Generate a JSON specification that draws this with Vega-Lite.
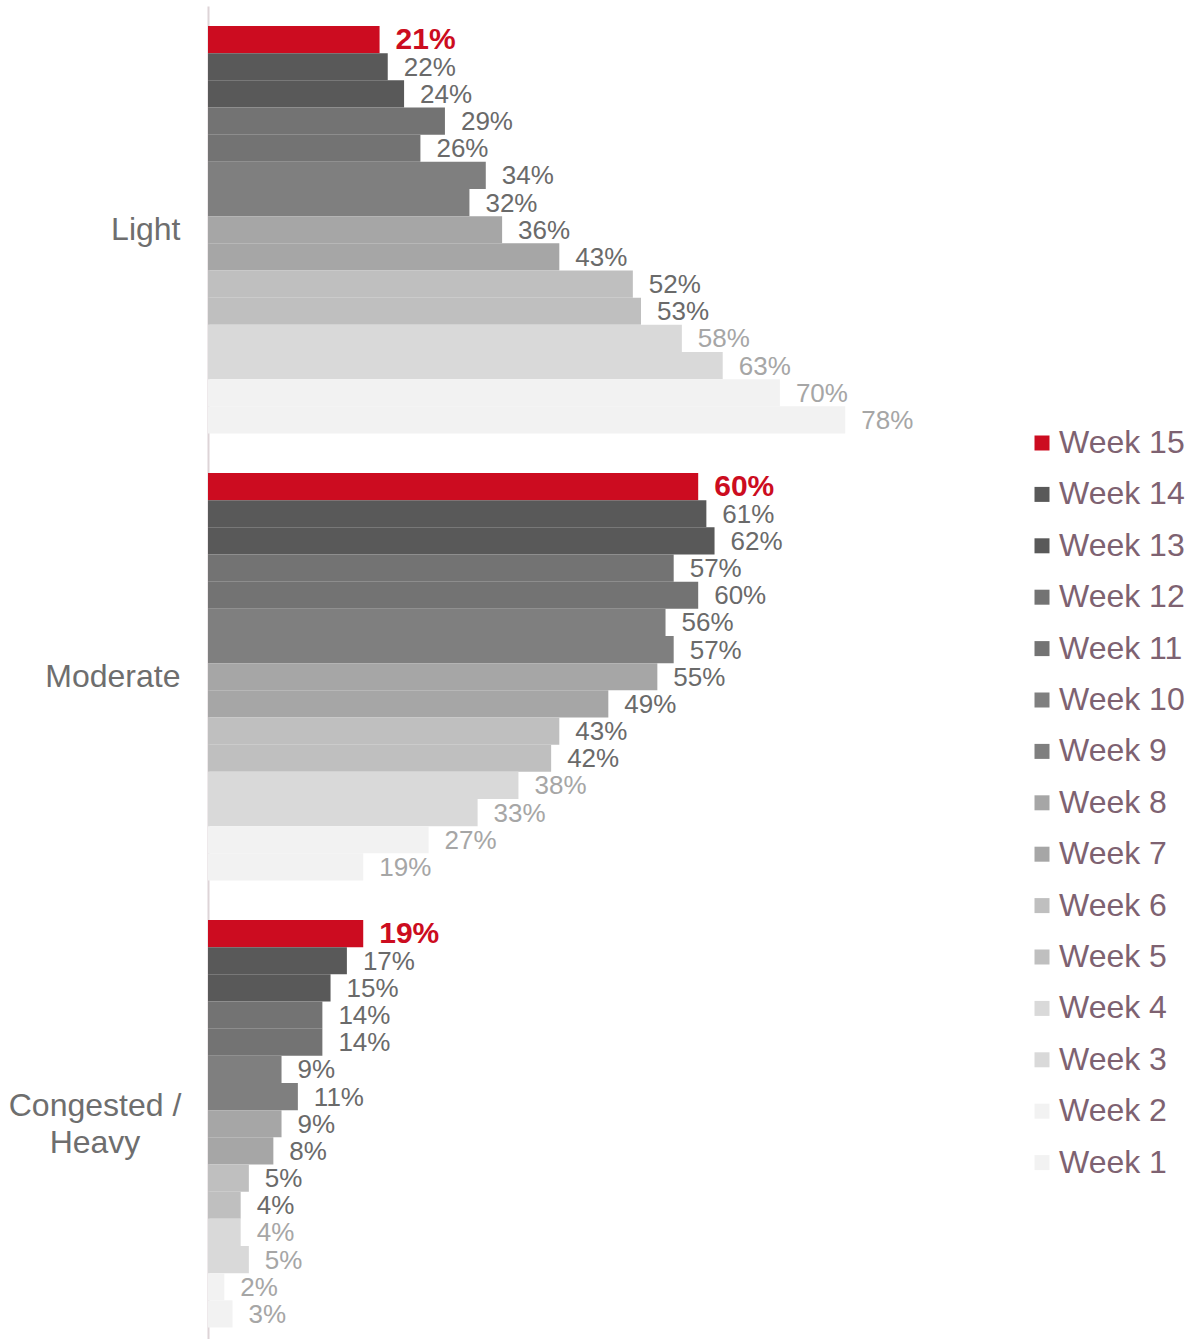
{
  "$schema": "https://vega.github.io/schema/vega-lite/v6.json",
  "width": 817,
  "height": 1333.5,
  "autosize": {"type": "none"},
  "padding": {"top": 6, "left": 208, "right": 174, "bottom": 0},
  "background": "#ffffff",
  "config": {
    "view": {"stroke": null},
    "font": "Arial, Liberation Sans, sans-serif"
  },
  "data": {
    "values": [
      {"cat": "Light", "week": "Week 15", "v": 0.21},
      {"cat": "Light", "week": "Week 14", "v": 0.22},
      {"cat": "Light", "week": "Week 13", "v": 0.24},
      {"cat": "Light", "week": "Week 12", "v": 0.29},
      {"cat": "Light", "week": "Week 11", "v": 0.26},
      {"cat": "Light", "week": "Week 10", "v": 0.34},
      {"cat": "Light", "week": "Week 9", "v": 0.32},
      {"cat": "Light", "week": "Week 8", "v": 0.36},
      {"cat": "Light", "week": "Week 7", "v": 0.43},
      {"cat": "Light", "week": "Week 6", "v": 0.52},
      {"cat": "Light", "week": "Week 5", "v": 0.53},
      {"cat": "Light", "week": "Week 4", "v": 0.58},
      {"cat": "Light", "week": "Week 3", "v": 0.63},
      {"cat": "Light", "week": "Week 2", "v": 0.70},
      {"cat": "Light", "week": "Week 1", "v": 0.78},
      {"cat": "Moderate", "week": "Week 15", "v": 0.60},
      {"cat": "Moderate", "week": "Week 14", "v": 0.61},
      {"cat": "Moderate", "week": "Week 13", "v": 0.62},
      {"cat": "Moderate", "week": "Week 12", "v": 0.57},
      {"cat": "Moderate", "week": "Week 11", "v": 0.60},
      {"cat": "Moderate", "week": "Week 10", "v": 0.56},
      {"cat": "Moderate", "week": "Week 9", "v": 0.57},
      {"cat": "Moderate", "week": "Week 8", "v": 0.55},
      {"cat": "Moderate", "week": "Week 7", "v": 0.49},
      {"cat": "Moderate", "week": "Week 6", "v": 0.43},
      {"cat": "Moderate", "week": "Week 5", "v": 0.42},
      {"cat": "Moderate", "week": "Week 4", "v": 0.38},
      {"cat": "Moderate", "week": "Week 3", "v": 0.33},
      {"cat": "Moderate", "week": "Week 2", "v": 0.27},
      {"cat": "Moderate", "week": "Week 1", "v": 0.19},
      {"cat": "Congested / Heavy", "week": "Week 15", "v": 0.19},
      {"cat": "Congested / Heavy", "week": "Week 14", "v": 0.17},
      {"cat": "Congested / Heavy", "week": "Week 13", "v": 0.15},
      {"cat": "Congested / Heavy", "week": "Week 12", "v": 0.14},
      {"cat": "Congested / Heavy", "week": "Week 11", "v": 0.14},
      {"cat": "Congested / Heavy", "week": "Week 10", "v": 0.09},
      {"cat": "Congested / Heavy", "week": "Week 9", "v": 0.11},
      {"cat": "Congested / Heavy", "week": "Week 8", "v": 0.09},
      {"cat": "Congested / Heavy", "week": "Week 7", "v": 0.08},
      {"cat": "Congested / Heavy", "week": "Week 6", "v": 0.05},
      {"cat": "Congested / Heavy", "week": "Week 5", "v": 0.04},
      {"cat": "Congested / Heavy", "week": "Week 4", "v": 0.04},
      {"cat": "Congested / Heavy", "week": "Week 3", "v": 0.05},
      {"cat": "Congested / Heavy", "week": "Week 2", "v": 0.02},
      {"cat": "Congested / Heavy", "week": "Week 1", "v": 0.03}
    ]
  },
  "encoding": {
    "y": {
      "field": "cat",
      "type": "nominal",
      "sort": ["Light", "Moderate", "Congested / Heavy"],
      "scale": {"paddingInner": 0.0884, "paddingOuter": 0.0358, "align": 0.625},
      "axis": {
        "title": null,
        "ticks": false,
        "grid": false,
        "domainColor": "#DDD4D7",
        "domainWidth": 2,
        "labelFontSize": 32,
        "labelColor": "#6E6E6E",
        "labelLineHeight": 37,
        "labelLimit": 300,
        "labelExpr": "datum.value == 'Congested / Heavy' ? ['Congested /', 'Heavy'] : datum.value",
        "labelAlign": {"condition": {"test": "datum.value == 'Congested / Heavy'", "value": "center"}, "value": "right"},
        "labelPadding": {"condition": {"test": "datum.value == 'Congested / Heavy'", "value": 113.5}, "value": 28},
        "labelOffset": {"condition": {"test": "datum.value == 'Congested / Heavy'", "value": -18}, "value": 0}
      }
    },
    "yOffset": {
      "field": "week",
      "type": "nominal",
      "sort": ["Week 15", "Week 14", "Week 13", "Week 12", "Week 11", "Week 10", "Week 9", "Week 8", "Week 7", "Week 6", "Week 5", "Week 4", "Week 3", "Week 2", "Week 1"],
      "scale": {"paddingInner": 0, "paddingOuter": 0}
    },
    "x": {
      "field": "v",
      "type": "quantitative",
      "scale": {"domain": [0, 1], "nice": false, "zero": true},
      "axis": null
    }
  },
  "layer": [
    {
      "mark": {"type": "bar", "cornerRadius": 0},
      "encoding": {
        "color": {
          "field": "week",
          "type": "nominal",
          "scale": {
            "domain": ["Week 15", "Week 14", "Week 13", "Week 12", "Week 11", "Week 10", "Week 9", "Week 8", "Week 7", "Week 6", "Week 5", "Week 4", "Week 3", "Week 2", "Week 1"],
            "range": ["#CC0C20", "#595959", "#595959", "#737373", "#737373", "#7F7F7F", "#7F7F7F", "#A6A6A6", "#A6A6A6", "#BFBFBF", "#BFBFBF", "#D9D9D9", "#D9D9D9", "#F2F2F2", "#F2F2F2"]
          },
          "legend": {
            "title": null,
            "orient": "none",
            "legendX": 818,
            "legendY": 421,
            "symbolType": "square",
            "symbolSize": 225,
            "symbolStrokeWidth": 0,
            "symbolOpacity": 1,
            "labelFontSize": 32,
            "labelColor": "#7E6271",
            "labelOffset": 1,
            "rowPadding": 19.4,
            "labelLimit": 300
          }
        }
      }
    },
    {
      "transform": [{"filter": "datum.week != 'Week 15'"}],
      "mark": {"type": "text", "align": "left", "baseline": "middle", "dx": 16, "dy": 1, "fontSize": 26},
      "encoding": {
        "text": {"field": "v", "type": "quantitative", "format": ".0%"},
        "color": {
          "condition": {"test": "indexof(['Week 1','Week 2','Week 3','Week 4'], datum.week) >= 0", "value": "#A6A6A6"},
          "value": "#6A6A6A"
        }
      }
    },
    {
      "transform": [{"filter": "datum.week == 'Week 15'"}],
      "mark": {"type": "text", "align": "left", "baseline": "middle", "dx": 16, "dy": 0, "fontSize": 30, "fontWeight": "bold", "color": "#CC0C20"},
      "encoding": {
        "text": {"field": "v", "type": "quantitative", "format": ".0%"}
      }
    }
  ]
}
